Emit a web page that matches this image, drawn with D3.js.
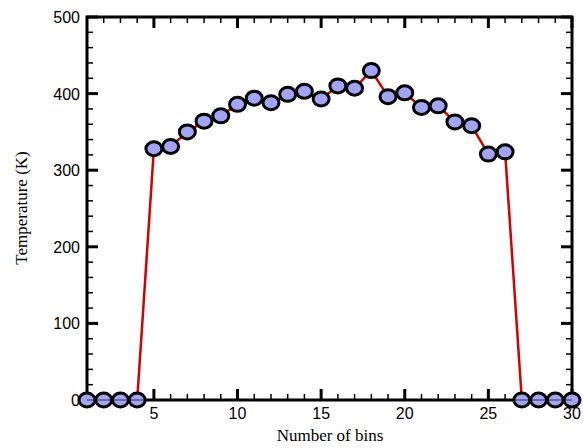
<!DOCTYPE html>
<html>
<head>
<meta charset="utf-8">
<script src="https://cdn.jsdelivr.net/npm/d3@7"></script>
<style>
body{margin:0;background:#fff;}
</style>
</head>
<body>
<div id="graph"></div>
<script>
// datos del grafico
var bins = d3.range(1, 31);
var temps = [0,0,0,0,328,331,350,364,371,386,394,388,399,403,393,410,407,430,396,401,382,384,363,358,321,324,0,0,0,0];
var xTicks = [5,10,15,20,25,30];
var yTicks = [0,100,200,300,400,500];

var W = 583, H = 448;
var pLeft = 87, pRight = 572, pTop = 17, pBottom = 400;

var svg = d3.select("#graph").append("svg").attr("width", W).attr("height", H);

var x = d3.scaleLinear().domain([1, 30]).range([pLeft, pRight]);
var y = d3.scaleLinear().domain([0, 500]).range([pBottom, pTop]);

var data = bins.map(function(b, i){ return {b: b, t: temps[i]}; });

// ticks interiores en los cuatro lados
var ax = svg.append("g");
function tickLines(vals, len, w){
	vals.forEach(function(v){
		ax.append("line").attr("x1", x(v)).attr("x2", x(v)).attr("y1", pBottom).attr("y2", pBottom - len).attr("stroke", "#000").attr("stroke-width", w);
		ax.append("line").attr("x1", x(v)).attr("x2", x(v)).attr("y1", pTop).attr("y2", pTop + len).attr("stroke", "#000").attr("stroke-width", w);
	});
}
function tickLinesY(vals, len, w){
	vals.forEach(function(v){
		ax.append("line").attr("y1", y(v)).attr("y2", y(v)).attr("x1", pLeft).attr("x2", pLeft + len).attr("stroke", "#000").attr("stroke-width", w);
		ax.append("line").attr("y1", y(v)).attr("y2", y(v)).attr("x1", pRight).attr("x2", pRight - len).attr("stroke", "#000").attr("stroke-width", w);
	});
}
tickLines(d3.range(2, 30).filter(function(v){ return v % 5 != 0; }), 6, 1.5);
tickLines(xTicks, 11, 3);
tickLinesY(d3.range(20, 500, 20).filter(function(v){ return v % 100 != 0; }), 6, 1.5);
tickLinesY(yTicks, 11, 3);

// marco
svg.append("rect").attr("x", pLeft).attr("y", pTop).attr("width", pRight - pLeft).attr("height", pBottom - pTop)
	.attr("fill", "none").attr("stroke", "#000").attr("stroke-width", 3);

// etiquetas de los ticks
svg.selectAll(".xl").data(xTicks).enter().append("text")
	.attr("x", function(d){ return x(d); }).attr("y", 419)
	.attr("text-anchor", "middle").attr("font-family", "Liberation Sans, Arial, sans-serif").attr("font-size", 16)
	.text(function(d){ return d; });
svg.selectAll(".yl").data(yTicks).enter().append("text")
	.attr("x", 80).attr("y", function(d){ return y(d) + 6; })
	.attr("text-anchor", "end").attr("font-family", "Liberation Sans, Arial, sans-serif").attr("font-size", 16)
	.text(function(d){ return d; });

// linea roja
var line = d3.line().x(function(d){ return x(d.b); }).y(function(d){ return y(d.t); });
svg.append("path").datum(data).attr("d", line).attr("fill", "none").attr("stroke", "#d40000").attr("stroke-width", 2.5);

// puntos (un poco mas anchos que altos)
svg.selectAll(".pt").data(data).enter().append("ellipse")
	.attr("cx", function(d){ return x(d.b); }).attr("cy", function(d){ return y(d.t); })
	.attr("rx", 8).attr("ry", 7).attr("fill", "#a4a4f6").attr("stroke", "#000").attr("stroke-width", 3);

// la linea del eje se ve por encima de los puntos en cero
svg.append("line").attr("x1", pLeft).attr("x2", pRight).attr("y1", pBottom).attr("y2", pBottom).attr("stroke", "#000").attr("stroke-width", 1.2).attr("opacity", 0.7);

// titulos
svg.append("text").attr("x", 330).attr("y", 441).attr("text-anchor", "middle")
	.attr("font-family", "Liberation Serif, Times New Roman, serif").attr("font-size", 17).text("Number of bins");
svg.append("text").attr("transform", "translate(27,208) rotate(-90)").attr("text-anchor", "middle")
	.attr("font-family", "Liberation Serif, Times New Roman, serif").attr("font-size", 17).text("Temperature (K)");
</script>
</body>
</html>
